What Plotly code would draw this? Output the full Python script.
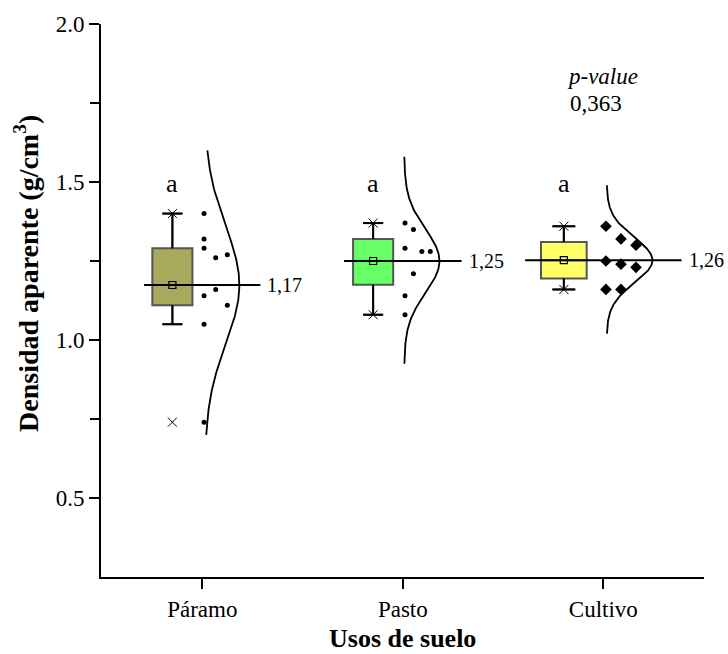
import numpy as np
import plotly.graph_objects as go

# ---------------- data ----------------
categories = ["Páramo", "Pasto", "Cultivo"]
paramo = [1.40, 1.32, 1.29, 1.26, 1.27, 1.14, 1.16, 1.11, 1.05, 0.74]
pasto = [1.37, 1.35, 1.29, 1.21, 1.28, 1.28, 1.14, 1.08]
cultivo = [1.36, 1.32, 1.30, 1.25, 1.24, 1.23, 1.16, 1.16]
mean_labels = ["1,17", "1,25", "1,26"]
group_letters = ["a", "a", "a"]
curve_lo = [0.70, 0.925, 1.02]
curve_hi = [1.60, 1.58, 1.49]
p_value_title = "p-value"
p_value_label = "0,363"
y_tick_values = [0.5, 1.0, 1.5, 2.0]
y_tick_labels = ["0.5", "1.0", "1.5", "2.0"]

series = [paramo, pasto, cultivo]

# ---------------- styles ----------------
FONT = "Liberation Serif"
box_colors = ["#a9a95b", "#66ff66", "#ffff66"]
box_offset = [-0.149, -0.148, -0.197]
box_width = [0.20, 0.20, 0.228]
point_start = [0.009, 0.011, 0.013]
point_step = [0.058, 0.042, 0.075]
point_symbol = ["circle", "circle", "diamond"]
point_size = [5, 5, 9]
curve_base = [0.013, 0.007, 0.017]
curve_peak = [0.172, 0.176, 0.228]
mean_half = [0.29, 0.293, 0.39]
label_gap = 0.025


def hinges(v):
    s = sorted(v)
    n = len(s)
    half = n // 2
    lower = s[:half]
    upper = s[n - half:]
    return float(np.median(lower)), float(np.median(upper))


fig = go.Figure()

for i, vals in enumerate(series):
    v = np.array(vals, dtype=float)
    pos = i + 1
    bx = pos + box_offset[i]
    mean = float(v.mean())
    sd = float(v.std(ddof=1))
    q1, q3 = hinges(vals)
    iqr = q3 - q1
    inside = v[(v >= q1 - 1.5 * iqr) & (v <= q3 + 1.5 * iqr)]
    lf, uf = float(inside.min()), float(inside.max())

    # box
    fig.add_trace(go.Box(
        x=[bx], q1=[q1], median=[mean], q3=[q3],
        lowerfence=[lf], upperfence=[uf],
        width=box_width[i], whiskerwidth=0.5,
        fillcolor=box_colors[i],
        line=dict(color="#555555", width=2),
        boxpoints=False, hoverinfo="skip", showlegend=False,
    ))

    # black whiskers and caps drawn over the box whiskers
    cap = box_width[i] * 0.25
    wx = [bx, bx, None, bx, bx, None, bx - cap, bx + cap, None, bx - cap, bx + cap]
    wy = [q3, uf, None, q1, lf, None, uf, uf, None, lf, lf]
    fig.add_trace(go.Scatter(
        x=wx, y=wy, mode="lines", line=dict(color="black", width=2),
        hoverinfo="skip", showlegend=False,
    ))

    # min / max markers
    fig.add_trace(go.Scatter(
        x=[bx, bx], y=[float(v.min()), float(v.max())], mode="markers",
        marker=dict(symbol="x-thin-open", size=9, color="black",
                    line=dict(width=1, color="black")),
        hoverinfo="skip", showlegend=False,
    ))

    # mean line
    fig.add_trace(go.Scatter(
        x=[pos - mean_half[i], pos + mean_half[i]], y=[mean, mean],
        mode="lines", line=dict(color="black", width=2),
        hoverinfo="skip", showlegend=False,
    ))

    # mean marker
    fig.add_trace(go.Scatter(
        x=[bx], y=[mean], mode="markers",
        marker=dict(symbol="square-open", size=7, color="black",
                    line=dict(width=1.2, color="black")),
        hoverinfo="skip", showlegend=False,
    ))

    # binned data points
    bins = np.floor(np.round(v * 10, 6))
    counts = {}
    cols = []
    for b in bins:
        c = counts.get(b, 0)
        cols.append(c)
        counts[b] = c + 1
    px = [pos + point_start[i] + c * point_step[i] for c in cols]
    fig.add_trace(go.Scatter(
        x=px, y=vals, mode="markers",
        marker=dict(symbol=point_symbol[i], size=point_size[i], color="black",
                    line=dict(width=0)),
        hoverinfo="skip", showlegend=False,
    ))

    # normal curve
    yy = np.linspace(curve_lo[i], curve_hi[i], 300)
    xx = pos + curve_base[i] + curve_peak[i] * np.exp(-0.5 * ((yy - mean) / sd) ** 2)
    fig.add_trace(go.Scatter(
        x=xx, y=yy, mode="lines", line=dict(color="black", width=1.8),
        hoverinfo="skip", showlegend=False,
    ))

    # mean label
    fig.add_annotation(
        x=pos + mean_half[i] + label_gap, y=mean, text=mean_labels[i],
        xanchor="left", yanchor="middle", showarrow=False,
        font=dict(family=FONT, size=20, color="black"),
    )
    # group letter
    fig.add_annotation(
        x=bx, y=1.495, text=group_letters[i], xanchor="center", yanchor="middle",
        showarrow=False, font=dict(family=FONT, size=26, color="black"),
    )

# p-value
fig.add_annotation(
    x=2.809, y=1.835, text="<i>" + p_value_title + "</i>", xanchor="left",
    yanchor="middle", showarrow=False, font=dict(family=FONT, size=23, color="black"),
)
fig.add_annotation(
    x=2.822, y=1.748, text=p_value_label, xanchor="left",
    yanchor="middle", showarrow=False, font=dict(family=FONT, size=23, color="black"),
)

# axis titles
fig.add_annotation(
    xref="paper", yref="paper", x=0.5, y=-0.112, text="<b>Usos de suelo</b>",
    xanchor="center", yanchor="middle", showarrow=False,
    font=dict(family=FONT, size=26, color="black"),
)
fig.add_annotation(
    xref="paper", yref="paper", x=-0.1227, y=0.548,
    text="<b>Densidad aparente (g/cm<sup>3</sup>)</b>", textangle=-90,
    xanchor="center", yanchor="middle", showarrow=False,
    font=dict(family=FONT, size=28, color="black"),
)

fig.update_layout(
    width=728, height=654,
    margin=dict(l=101, r=24, t=19, b=77),
    paper_bgcolor="white", plot_bgcolor="white",
    boxmode="overlay", showlegend=False,
    font=dict(family=FONT, size=23, color="black"),
    xaxis=dict(
        range=[0.495, 3.502], tickvals=[1, 2, 3], ticktext=categories,
        ticks="outside", ticklen=10, tickwidth=2, tickcolor="black",
        showline=True, linewidth=2, linecolor="black",
        showgrid=False, zeroline=False,
        tickfont=dict(family=FONT, size=23, color="black"),
    ),
    yaxis=dict(
        range=[0.25, 2.0], tickvals=y_tick_values, ticktext=y_tick_labels,
        ticks="outside", ticklen=10, tickwidth=2, tickcolor="black",
        showline=True, linewidth=2, linecolor="black",
        showgrid=False, zeroline=False,
        minor=dict(tickvals=[0.75, 1.25, 1.75], ticks="outside", ticklen=9,
                   tickwidth=2, tickcolor="black", showgrid=False),
        tickfont=dict(family=FONT, size=23, color="black"),
    ),
)

fig.write_html("out.html")
